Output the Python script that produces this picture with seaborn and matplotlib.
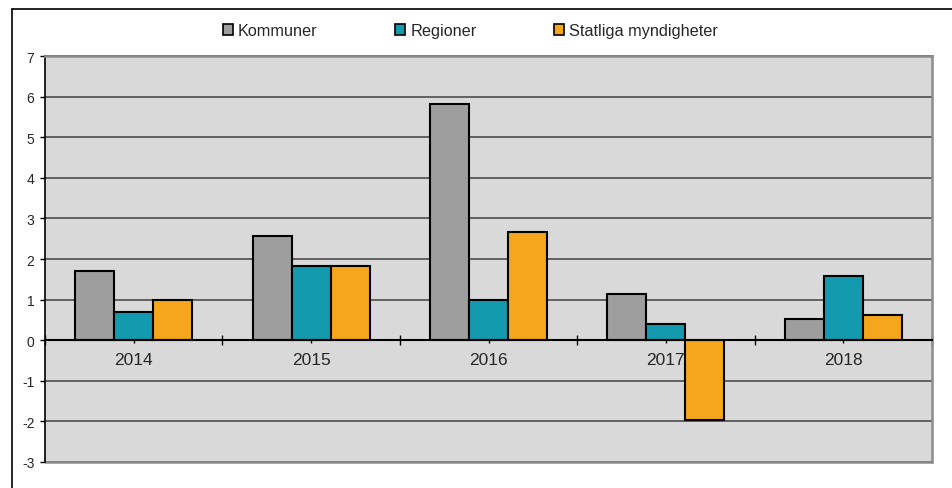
import numpy as np
import pandas as pd
import seaborn as sns
import matplotlib.pyplot as plt
from matplotlib.patches import Patch
from matplotlib.lines import Line2D

years = ["2014", "2015", "2016", "2017", "2018"]
kommuner = [1.70, 2.56, 5.81, 1.13, 0.52]
regioner = [0.69, 1.82, 1.00, 0.41, 1.58]
statliga = [0.98, 1.82, 2.66, -1.97, 0.63]
series = ["Kommuner", "Regioner", "Statliga myndigheter"]
colors = ["#9e9e9e", "#139aae", "#f5a61b"]
yticks = [-3, -2, -1, 0, 1, 2, 3, 4, 5, 6, 7]

df = pd.DataFrame({"year": years, series[0]: kommuner, series[1]: regioner, series[2]: statliga})
df = df.melt(id_vars="year", var_name="serie", value_name="value")

sns.set_style("white")
plt.rcParams["font.family"] = ["Liberation Sans", "DejaVu Sans"]

fig = plt.figure(figsize=(9.52, 4.89), dpi=100)
ax = fig.add_axes([0.0473, 0.0532, 0.9317, 0.8302])
ax.set_facecolor("#d9d9d9")

sns.barplot(data=df, x="year", y="value", hue="serie", palette=colors, width=0.66,
            edgecolor="black", linewidth=1.5, saturation=1, ax=ax, zorder=3)
ax.legend_.remove()

ax.set_ylim(-3, 7)
ax.set_xlim(-0.5, 4.5)
ax.set_yticks(yticks)
ax.set_yticklabels([str(t) for t in yticks], fontsize=10)
ax.tick_params(axis="y", direction="out", length=3.6, width=1, color="black", pad=4, left=True)
for t in yticks:
    if t != 0:
        ax.axhline(t, color="#4d4d4d", lw=1.2, zorder=1, clip_on=False)

# x axis drawn at zero
ax.spines["bottom"].set_position(("data", 0))
ax.spines["bottom"].set_color("black")
ax.spines["bottom"].set_linewidth(1.5)
ax.spines["bottom"].set_zorder(4)
ax.set_xticks(range(len(years)))
ax.set_xticklabels(years, fontsize=12.5)
ax.set_xticks(np.arange(-0.5, len(years)), minor=True)
ax.tick_params(axis="x", which="major", direction="out", length=2.5, width=1, color="black", pad=6, bottom=True)
ax.tick_params(axis="x", which="minor", direction="inout", length=7, width=1, color="black", bottom=True)
ax.set_xlabel("")
ax.set_ylabel("")

ax.spines["left"].set_color("black")
ax.spines["left"].set_linewidth(1.2)
for s in ["top", "right"]:
    ax.spines[s].set_color("#8c8c8c")
    ax.spines[s].set_linewidth(1.8)
ax.axhline(-3, color="#8c8c8c", lw=1.8, clip_on=False, zorder=1)

handles = [Patch(facecolor=c, edgecolor="black", linewidth=1.2) for c in colors]
fig.legend(handles, series, loc="center", bbox_to_anchor=(0.494, 0.935), ncol=3, frameon=False,
           fontsize=11.7, handlelength=0.65, handleheight=0.65, handletextpad=0.3, columnspacing=4.75)

# outer chart frame
fig.add_artist(Line2D([0.0126, 0.0126], [0, 0.9796], color="black", lw=1.2, transform=fig.transFigure))
fig.add_artist(Line2D([0.0126, 1], [0.9796, 0.9796], color="black", lw=1.2, transform=fig.transFigure))

fig.savefig("out.png", dpi=100)
